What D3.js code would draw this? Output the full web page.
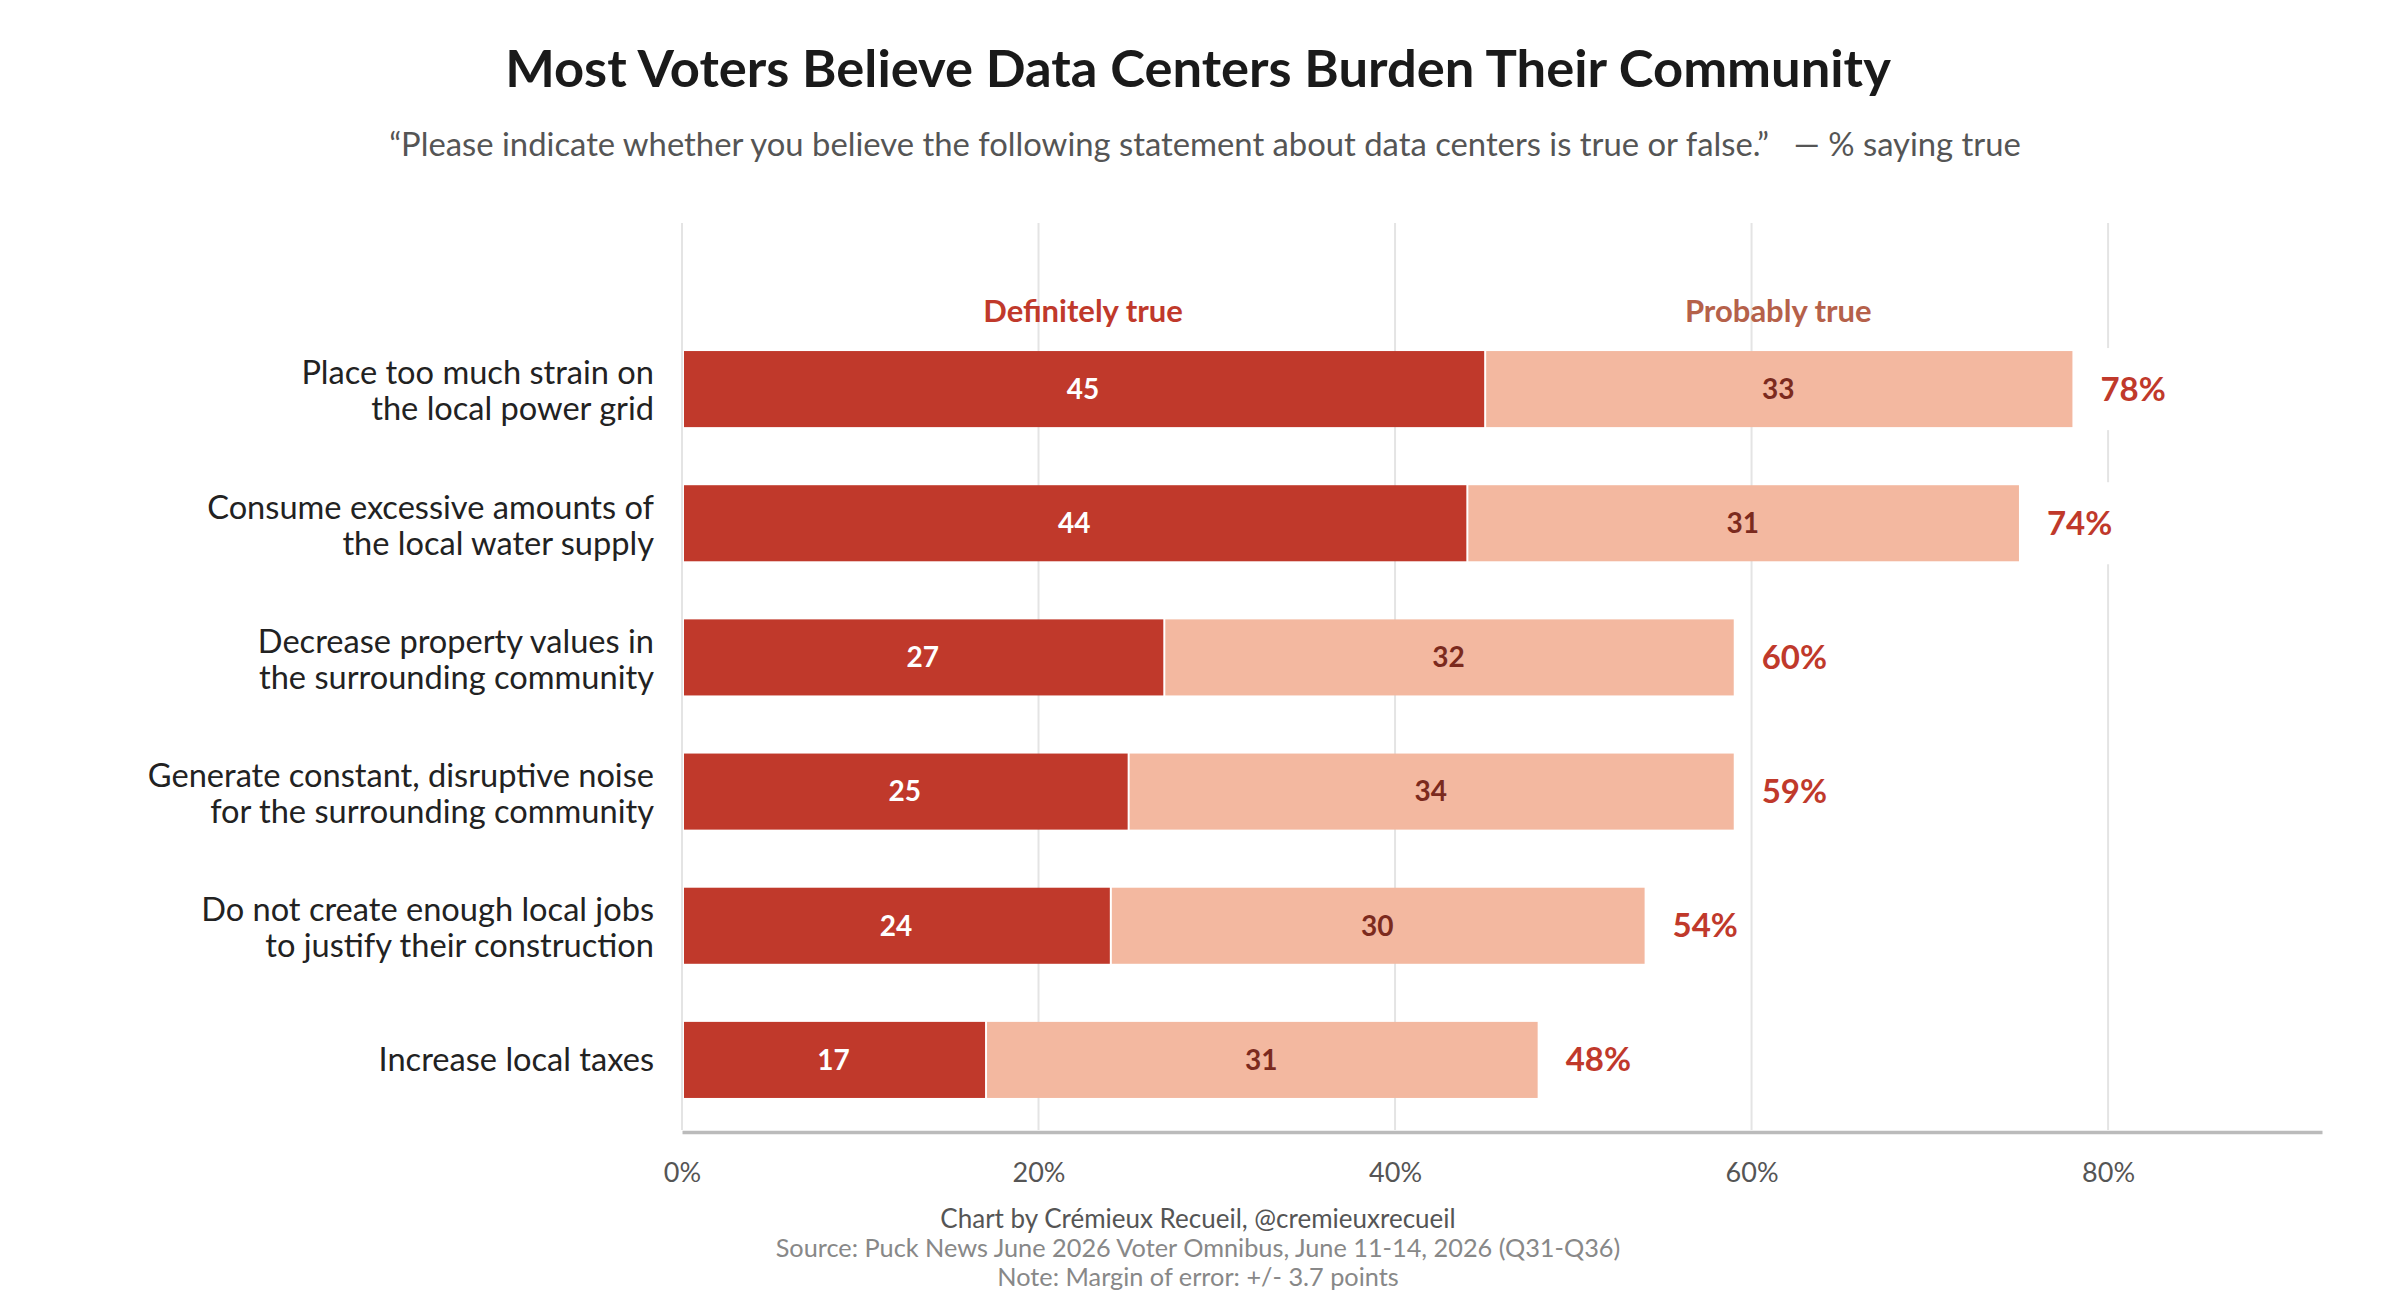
<!DOCTYPE html>
<html>
<head>
<meta charset="utf-8">
<script src="https://cdn.jsdelivr.net/npm/d3@7"></script>
<style>
  body { margin: 0; background: #fff; }
  text { font-family: Lato, "Noto Sans", sans-serif; }
</style>
</head>
<body>
<script>
// data
const statements = [
  ["Place too much strain on", "the local power grid"],
  ["Consume excessive amounts of", "the local water supply"],
  ["Decrease property values in", "the surrounding community"],
  ["Generate constant, disruptive noise", "for the surrounding community"],
  ["Do not create enough local jobs", "to justify their construction"],
  ["Increase local taxes"]
];
const definitelyTrue = [45, 44, 27, 25, 24, 17];
const probablyTrue = [33, 31, 32, 34, 30, 31];
const totalTrue = [78, 74, 60, 59, 54, 48];
const seriesNames = ["Definitely true", "Probably true"];
const xTicks = [0, 20, 40, 60, 80];
const footerLines = [
  "Chart by Crémieux Recueil, @cremieuxrecueil",
  "Source: Puck News June 2026 Voter Omnibus, June 11-14, 2026 (Q31-Q36)",
  "Note: Margin of error: +/- 3.7 points"
];

const W = 2394, H = 1302;
const CENTER = 1198;
const PLOT = { left: 682, right: 2322, top: 223, bottom: 1132 };
const COLORS = { def: "#c0392b", prob: "#f3b8a0", probText: "#7b2a1e", probLegend: "#b5614a" };

const svg = d3.select("body").append("svg")
  .attr("width", W)
  .attr("height", H);

const x = d3.scaleLinear().domain([0, 92]).range([PLOT.left, PLOT.right]);
const y = d3.scaleBand()
  .domain(d3.range(statements.length))
  .range([322, 1127])
  .paddingInner(0.433)
  .paddingOuter(0.2165);

// title + subtitle
svg.append("text")
  .attr("x", CENTER).attr("y", 87)
  .attr("text-anchor", "middle")
  .attr("font-size", 52.5).attr("font-weight", 700)
  .attr("fill", "#1a1a1a")
  .text("Most Voters Believe Data Centers Burden Their Community");

svg.append("text")
  .attr("x", CENTER + 7).attr("y", 156)
  .attr("text-anchor", "middle")
  .attr("font-size", 32.8)
  .attr("fill", "#555")
  .text("\u201cPlease indicate whether you believe the following statement about data centers is true or false.\u201d \u00a0\u00a0\u2014 % saying true");

// gridlines
svg.append("g")
  .selectAll("line")
  .data(xTicks)
  .join("line")
  .attr("x1", d => x(d)).attr("x2", d => x(d))
  .attr("y1", PLOT.top).attr("y2", PLOT.bottom - 2)
  .attr("stroke", "#e4e4e4")
  .attr("stroke-width", 2);

// x axis
const xAxis = svg.append("g")
  .attr("transform", "translate(0," + PLOT.bottom + ")")
  .call(d3.axisBottom(x).tickValues(xTicks).tickSize(0).tickSizeOuter(0).tickPadding(31).tickFormat(d => d + "%"));
xAxis.select(".domain").attr("stroke", "#bbb").attr("stroke-width", 3.5);
xAxis.selectAll("text")
  .attr("font-size", 27)
  .attr("fill", "#555")
  .style("font-family", "Lato, sans-serif");

// series labels over the first row
const legendPos = [definitelyTrue[0] / 2, definitelyTrue[0] + probablyTrue[0] / 2];
svg.append("g")
  .selectAll("text")
  .data(seriesNames)
  .join("text")
  .attr("x", (_, i) => x(legendPos[i]))
  .attr("y", 322)
  .attr("text-anchor", "middle")
  .attr("font-size", 31).attr("font-weight", 700)
  .attr("fill", (_, i) => i === 0 ? COLORS.def : COLORS.probLegend)
  .text(d => d);

const rows = svg.append("g")
  .selectAll("g")
  .data(statements)
  .join("g")
  .attr("transform", (_, i) => "translate(0," + y(i) + ")");

const bw = y.bandwidth();

// white patch behind totals so gridlines break there
rows.append("rect")
  .attr("x", (_, i) => x(definitelyTrue[i] + probablyTrue[i]) + 20)
  .attr("y", -3)
  .attr("width", 80)
  .attr("height", bw + 6)
  .attr("fill", "#fff");

rows.append("rect")
  .attr("x", x(0) + 2)
  .attr("y", 0)
  .attr("width", (_, i) => x(definitelyTrue[i]) - x(0) - 2)
  .attr("height", bw)
  .attr("fill", COLORS.def);

rows.append("rect")
  .attr("x", (_, i) => x(definitelyTrue[i]) + 2)
  .attr("y", 0)
  .attr("width", (_, i) => x(definitelyTrue[i] + probablyTrue[i]) - x(definitelyTrue[i]) - 2)
  .attr("height", bw)
  .attr("fill", COLORS.prob);

rows.append("text")
  .attr("x", (_, i) => x(definitelyTrue[i] / 2))
  .attr("y", bw / 2)
  .attr("dy", "0.35em")
  .attr("text-anchor", "middle")
  .attr("font-size", 28).attr("font-weight", 700)
  .attr("fill", "#fff")
  .text((_, i) => definitelyTrue[i]);

rows.append("text")
  .attr("x", (_, i) => x(definitelyTrue[i] + probablyTrue[i] / 2))
  .attr("y", bw / 2)
  .attr("dy", "0.35em")
  .attr("text-anchor", "middle")
  .attr("font-size", 28).attr("font-weight", 700)
  .attr("fill", COLORS.probText)
  .text((_, i) => probablyTrue[i]);

rows.append("text")
  .attr("x", (_, i) => x(definitelyTrue[i] + probablyTrue[i]) + 28)
  .attr("y", bw / 2)
  .attr("dy", "0.35em")
  .attr("font-size", 33).attr("font-weight", 700)
  .attr("fill", COLORS.def)
  .text((_, i) => totalTrue[i] + "%");

// category labels
rows.append("text")
  .attr("x", 654)
  .attr("text-anchor", "end")
  .attr("font-size", 32.6)
  .attr("fill", "#222")
  .each(function (lines) {
    const t = d3.select(this);
    lines.forEach((line, j) => {
      t.append("tspan")
        .attr("x", 654)
        .attr("y", bw / 2 + (j - (lines.length - 1) / 2) * 36 + (lines.length > 1 ? 2 : 0))
        .attr("dy", "0.35em")
        .text(line);
    });
  });

// footer
svg.append("g")
  .selectAll("text")
  .data(footerLines)
  .join("text")
  .attr("x", CENTER)
  .attr("y", (_, i) => 1228 + i * 29)
  .attr("text-anchor", "middle")
  .attr("font-size", (_, i) => i === 0 ? 26 : 25.3)
  .attr("fill", (_, i) => i === 0 ? "#555" : "#888")
  .text(d => d);
</script>
</body>
</html>
